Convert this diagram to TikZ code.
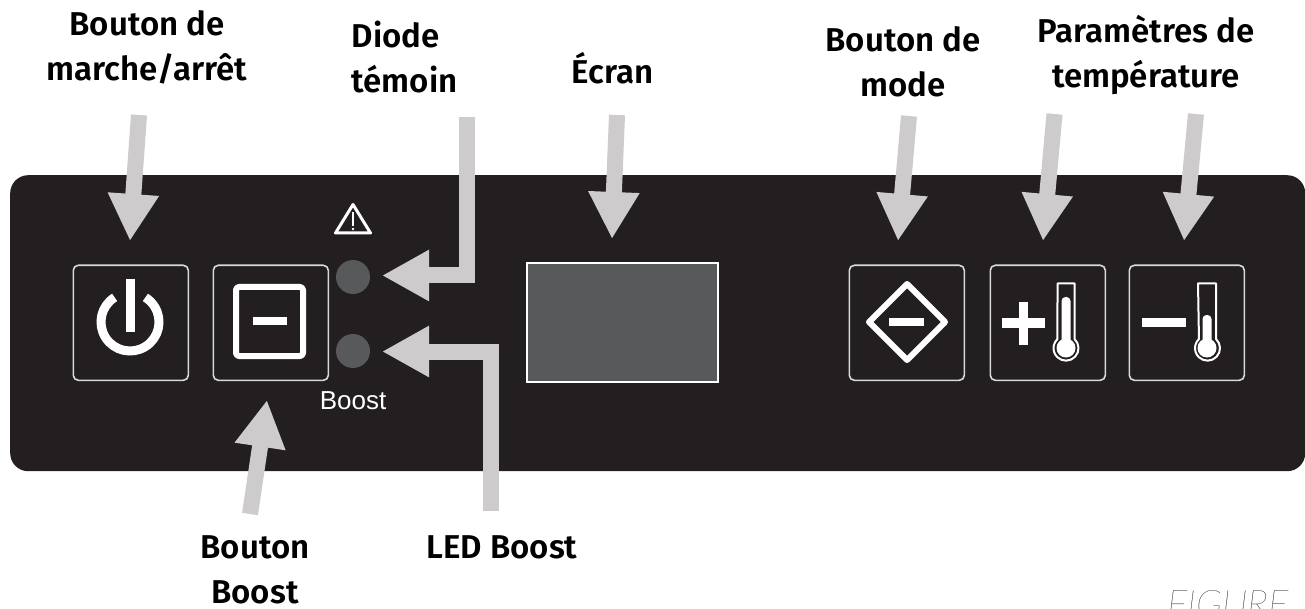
\documentclass[tikz,border=0pt]{standalone}
\usepackage{fontspec}
\setmainfont{Fira Sans}
\newfontfamily\labelfont{Fira Sans SemiBold}
\newfontfamily\arialfont{Liberation Sans}
\newfontfamily\figfont{Lato Hairline}
\usetikzlibrary{arrows.meta}
\definecolor{panel}{HTML}{231F20}
\definecolor{ledgray}{HTML}{58595B}
\definecolor{arrowgray}{HTML}{CDCBCB}
\tikzset{
  x=1pt,y=-1pt,
  callout/.style={font=\labelfont\fontsize{33}{45}\selectfont,text=black,align=center,inner sep=0pt},
  keybox/.style={draw=white!85!black,line width=1.6pt,rounded corners=5pt,minimum width=115pt,minimum height=115pt,inner sep=0pt,anchor=north west},
  ledspot/.style={circle,fill=ledgray,minimum size=34pt,inner sep=0pt},
  pointer/.style={draw=arrowgray,line width=16pt,line join=miter,-{Triangle[length=47pt,width=48pt,fill=arrowgray]}},
  icon/.style={draw=white,line width=6pt,line join=round,fill=none},
  bar/.style={draw=white,line width=8.5pt},
  thin/.style={draw=white,line width=2pt,line join=round},
}
\begin{document}
\begin{tikzpicture}
\useasboundingbox (0,0) rectangle (1305,609);
\clip (0,0) rectangle (1305,609);
\node[draw=none,fill=panel,rounded corners=18pt,minimum width=1295pt,minimum height=296pt,inner sep=0pt,anchor=north west] (panelbox) at (10,175) {};
\node[keybox] (power) at (72.5,264.5) {};
\node[keybox] (boostkey) at (212.5,264.5) {};
\node[keybox] (mode) at (848.5,264.5) {};
\node[keybox] (plus) at (989.5,264.5) {};
\node[keybox] (minus) at (1128.5,264.5) {};
\node[draw=white,line width=2pt,fill=ledgray,minimum width=191pt,minimum height=118pt,inner sep=0pt,anchor=north west] (screen) at (525.5,262.5) {};
\node[ledspot] (led1) at (353,277) {};
\node[ledspot] (led2) at (353,351) {};
\node[font=\arialfont\fontsize{26}{26}\selectfont,text=white,inner sep=0pt] (boosttxt) at (353,401) {Boost};
\draw[thin,line width=3pt] (353,204.5) -- (370.5,233) -- (335.5,233) -- cycle;
\draw[draw=white,line width=2.4pt] (353,212) -- (353,226);
\fill[white] (353,229) circle[radius=1.4pt];
\draw[draw=white,line width=9pt] ([shift={(122:29pt)}]130,322) arc[start angle=122,end angle=418,radius=29pt];
\draw[draw=white,line width=9pt] (130,279) -- (130,332);
\draw[icon,rounded corners=3pt] (236,287) rectangle (303,356);
\draw[bar] (252.5,321) -- (287,321);
\draw[icon] (907,284) -- (945,322) -- (907,360) -- (869,322) -- cycle;
\draw[bar] (889,322) -- (924,322);
\draw[draw=white,line width=9.5pt] (1002,323) -- (1045,323) (1023.5,302) -- (1023.5,345);
\draw[thin] (1057.5,283.5) -- (1074.5,283.5) -- (1074.5,339) arc[start angle=47,end angle=-227,radius=12.5pt] -- cycle;
\fill[white] (1066,348) circle[radius=9.5pt];
\fill[white,rounded corners=4pt] (1061.5,297) rectangle (1070.5,345);
\draw[draw=white,line width=9pt] (1142,322) -- (1186,322);
\draw[thin] (1198,283.5) -- (1216,283.5) -- (1216,339) arc[start angle=47,end angle=-227,radius=12.5pt] -- cycle;
\fill[white] (1207,348) circle[radius=9.5pt];
\fill[white,rounded corners=4pt] (1202.5,315) rectangle (1211.5,345);
\coordinate (a1) at (139,115);
\coordinate (a1t) at (130,241);
\coordinate (a2) at (467,117);
\coordinate (a2b) at (467,275.5);
\coordinate (a2t) at (382,275.5);
\coordinate (a3) at (491,511);
\coordinate (a3b) at (491,351.5);
\coordinate (a3t) at (382,351.5);
\coordinate (a4) at (250,514);
\coordinate (a4t) at (267,400);
\coordinate (a5) at (617,115);
\coordinate (a5t) at (612,239);
\coordinate (a6) at (909,116);
\coordinate (a6t) at (898,241);
\coordinate (a7) at (1054.5,114);
\coordinate (a7t) at (1043,241);
\coordinate (a8) at (1196,114);
\coordinate (a8t) at (1184,241);
\draw[pointer] (a1) -- (a1t);
\draw[pointer] (a2) -- (a2b) -- (a2t);
\draw[pointer] (a3) -- (a3b) -- (a3t);
\draw[pointer] (a4) -- (a4t);
\draw[pointer] (a5) -- (a5t);
\draw[pointer] (a6) -- (a6t);
\draw[pointer] (a7) -- (a7t);
\draw[pointer] (a8) -- (a8t);
\node[callout] (t1) at (147,47.5) {Bouton de\\marche/arrêt};
\node[callout,align=left] (t2) at (404.5,57) {Diode\\témoin};
\node[callout,anchor=base] (t3) at (612.5,84) {Écran};
\node[callout] (t4) at (903,62) {Bouton de\\mode};
\node[callout] (t5) at (1146,54.5) {Paramètres de\\température};
\node[callout] (t6) at (255,570) {Bouton\\Boost};
\node[callout,anchor=base] (t7) at (502,558) {LED Boost};
\node[font=\figfont\itshape\fontsize{38}{38}\selectfont,text=black,inner sep=0pt,anchor=base west] (fig) at (1167,617) {FIGURE 1};
\end{tikzpicture}
\end{document}
